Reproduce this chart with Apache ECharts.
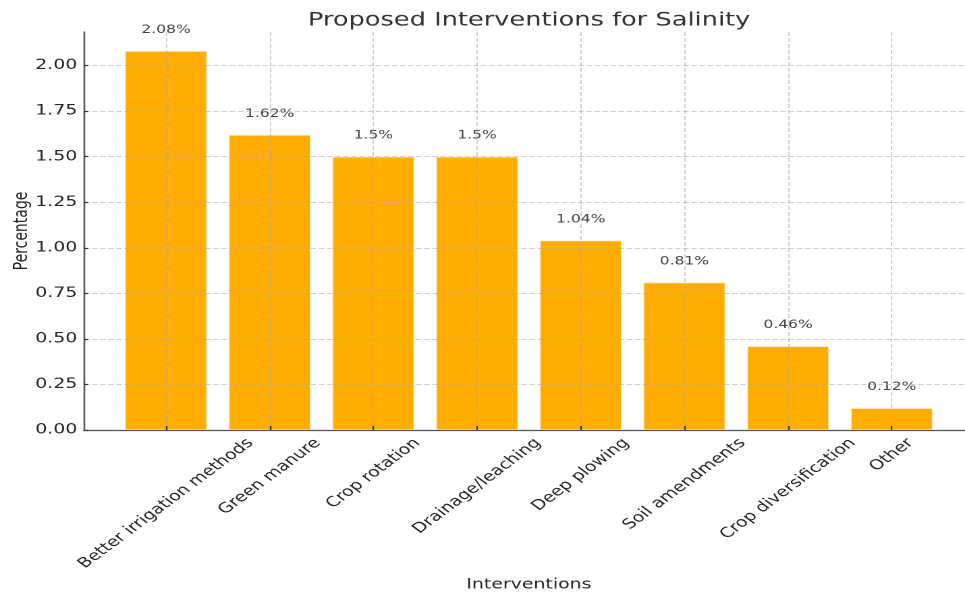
<!DOCTYPE html>
<html>
<head>
<meta charset="utf-8">
<title>Proposed Interventions for Salinity</title>
<script src="https://cdn.jsdelivr.net/npm/echarts@6/dist/echarts.min.js"></script>
<style>
  html, body { margin: 0; padding: 0; background: #ffffff; overflow: hidden; }
  #wrap { width: 965px; height: 594px; overflow: hidden; }
  /* the chart is laid out at 715px and widened to 965px */
  #chart { width: 715px; height: 594px; transform: scaleX(1.3497); transform-origin: 0 0; }
</style>
</head>
<body>
<div id="wrap"><div id="chart"></div></div>
<script>
// ---- data ----
const categories = [
  'Better irrigation methods',
  'Green manure',
  'Crop rotation',
  'Drainage/leaching',
  'Deep plowing',
  'Soil amendments',
  'Crop diversification',
  'Other'
];
const percentages = [2.08, 1.62, 1.5, 1.5, 1.04, 0.81, 0.46, 0.12];
const yTicks = [0, 0.25, 0.5, 0.75, 1.0, 1.25, 1.5, 1.75, 2.0];

// ---- styling ----
const FONT = '"DejaVu Sans", "Liberation Sans", sans-serif';
const LABEL_SIZE = 14;
const BAR_COLOR = '#ffad00';
const GRID_LINE = { color: 'rgba(170,170,170,0.55)', width: 1, type: [4, 2] };
const xIndex = categories.map((_, i) => i);

// Rotated category labels are centred under their tick (bounding box centred,
// top of box just below the axis). Each label gets its own rich style whose
// padding pushes the text down by half of its rotated height.
const ctx = document.createElement('canvas').getContext('2d');
ctx.font = LABEL_SIZE + 'px ' + FONT;
const rich = {};
categories.forEach((name, i) => {
  const len = ctx.measureText(name).width;
  const boxH = (len + LABEL_SIZE) * Math.SQRT1_2;
  const d = 6 + boxH / 2;
  const p = d * Math.SQRT2;
  rich['c' + i] = {
    fontFamily: FONT,
    fontSize: LABEL_SIZE,
    color: '#262626',
    padding: [p, p, 0, 0]
  };
});

const chart = echarts.init(document.getElementById('chart'), null, {
  renderer: 'canvas',
  devicePixelRatio: 2
});

chart.setOption({
  animation: false,
  backgroundColor: '#ffffff',
  title: {
    text: 'Proposed Interventions for Salinity',
    left: 387,
    top: 6,
    textAlign: 'center',
    textStyle: { fontFamily: FONT, fontSize: 19, fontWeight: 'normal', color: '#333333' }
  },
  grid: {
    left: 62.3, top: 32, width: 659.1, height: 398,
    containLabel: false,
    outerBoundsMode: 'none'
  },
  xAxis: {
    type: 'value',
    min: -0.79,
    max: 7.79,
    z: 5,
    name: 'Interventions',
    nameLocation: 'middle',
    nameGap: 148,
    nameMoveOverlap: false,
    nameTextStyle: { fontFamily: FONT, fontSize: 14, color: '#262626' },
    axisLine: { show: true, onZero: false, lineStyle: { color: '#555555', width: 1.3 } },
    axisTick: { show: true, inside: true, length: 4, customValues: xIndex,
                lineStyle: { color: '#333333', width: 1.2 } },
    axisLabel: {
      customValues: xIndex,
      rotate: 45,
      margin: 0,
      align: 'center',
      verticalAlign: 'middle',
      formatter: v => '{c' + v + '|' + categories[v] + '}',
      rich: rich
    },
    splitLine: { show: true, lineStyle: GRID_LINE }
  },
  yAxis: {
    type: 'value',
    min: 0,
    max: 2.184,
    z: 5,
    name: 'Percentage',
    nameLocation: 'middle',
    nameGap: 39,
    nameMoveOverlap: false,
    nameTextStyle: { fontFamily: FONT, fontSize: 14, color: '#262626' },
    axisLine: { show: true, onZero: false, lineStyle: { color: '#555555', width: 1.3 } },
    axisTick: { show: true, inside: true, length: 3, customValues: yTicks,
                lineStyle: { color: '#333333', width: 1.2 } },
    axisLabel: {
      customValues: yTicks,
      margin: 5,
      fontFamily: FONT,
      fontSize: 14,
      color: '#262626',
      formatter: v => v.toFixed(2)
    },
    splitLine: { show: true, lineStyle: GRID_LINE }
  },
  series: [{
    type: 'bar',
    barWidth: 61,
    z: 2,
    data: percentages.map((v, i) => [i, v]),
    itemStyle: { color: BAR_COLOR, borderColor: 'rgba(255,240,210,0.9)', borderWidth: 0.8 },
    label: {
      show: true,
      position: 'top',
      distance: 15,
      fontFamily: FONT,
      fontSize: 11.5,
      color: '#444444',
      formatter: p => p.value[1] + '%'
    }
  }]
});
</script>
</body>
</html>
